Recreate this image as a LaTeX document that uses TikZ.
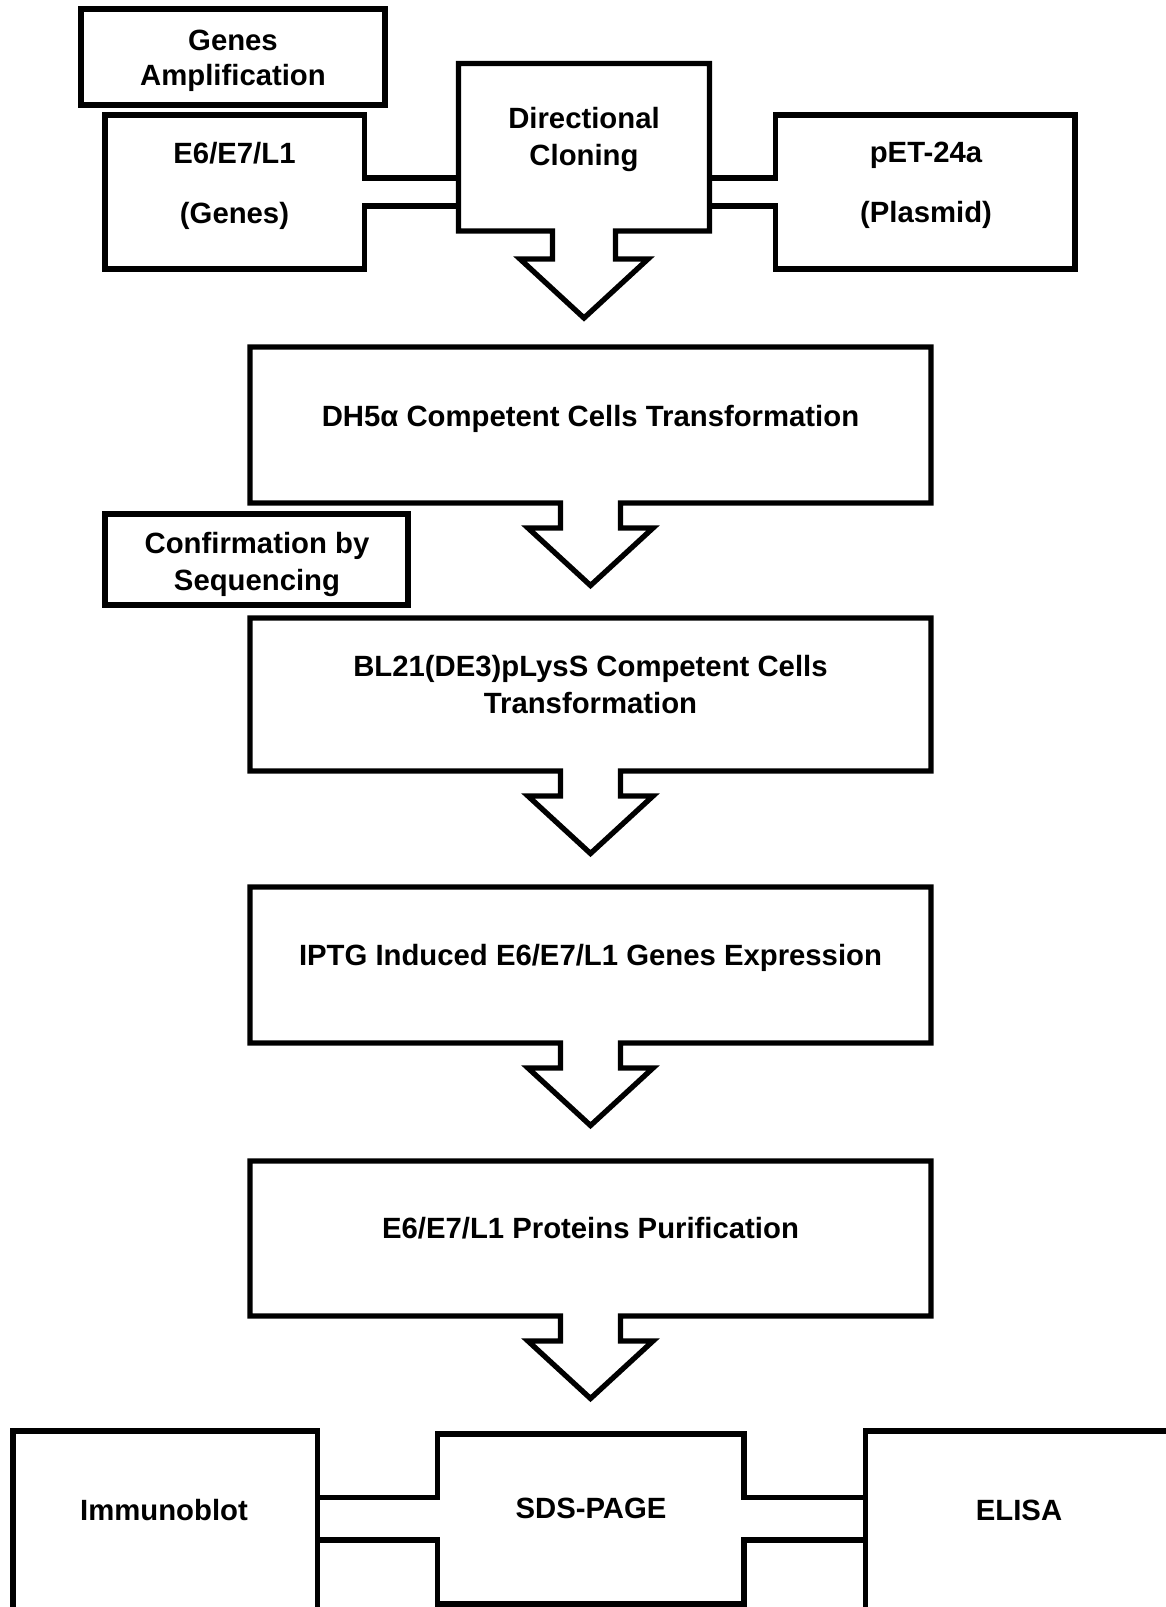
\documentclass[tikz,border=0pt]{standalone}
\usepackage{fontspec}
\setmainfont{Liberation Sans}
\usetikzlibrary{calc}
\newcommand{\boxwitharrow}[1]{%
  \draw[outline] (#1.south west) -- (#1.north west) -- (#1.north east) -- (#1.south east)
    -- ($(#1.south)+(30,0)$) -- ++(0,25) -- ++(32.5,0) -- ($(#1.south)+(0,82.5)$) coordinate (#1tip)
    -- ($(#1.south)+(-62.5,25)$) -- ++(32.5,0) -- ($(#1.south)+(-30,0)$) -- cycle;}
\begin{document}
\begin{tikzpicture}[x=1pt,y=-1pt,
  outline/.style={draw=black,line width=5.3pt,line join=miter},
  boxarea/.style={shape=rectangle,inner sep=0pt,outer sep=0pt,draw=none},
  lbl/.style={anchor=base,align=center,inner sep=0pt,font=\fontsize{29.3}{37}\selectfont\bfseries}]
\useasboundingbox (0,0) rectangle (1166,1607);
\clip (0,0) rectangle (1166,1607);

% box areas (stroke centre lines)
\node[boxarea,minimum width=304pt,minimum height=96pt] (ga) at (233,57) {};
\node[boxarea,minimum width=259.5pt,minimum height=154pt] (e6) at (234.75,192) {};
\node[boxarea,minimum width=251pt,minimum height=167.5pt] (dc) at (584,147.25) {};
\node[boxarea,minimum width=299.5pt,minimum height=154pt] (pet) at (925.25,192) {};
\node[boxarea,minimum width=681pt,minimum height=156pt] (dh) at (590.5,425) {};
\node[boxarea,minimum width=303pt,minimum height=91pt] (cs) at (256.5,559.5) {};
\node[boxarea,minimum width=681pt,minimum height=153pt] (bl) at (590.5,694.5) {};
\node[boxarea,minimum width=681pt,minimum height=156pt] (ip) at (590.5,965) {};
\node[boxarea,minimum width=681pt,minimum height=155pt] (pu) at (590.5,1238.5) {};
\node[boxarea,minimum width=304.5pt,minimum height=269pt] (im) at (165.25,1565.5) {};
\node[boxarea,minimum width=306.5pt,minimum height=170pt] (sd) at (590.75,1519) {};
\node[boxarea,minimum width=334.5pt,minimum height=269pt] (el) at (1032.75,1565.5) {};

% connector levels
\coordinate (ya) at (0,178);
\coordinate (yb) at (0,206);
\coordinate (yc) at (0,1497.5);
\coordinate (yd) at (0,1540);

% outlines
\draw[outline] (ga.north west) rectangle (ga.south east);
\draw[outline] (cs.north west) rectangle (cs.south east);

\draw[outline] (dc.west |- ya) -- (e6.east |- ya) -- (e6.north east) -- (e6.north west)
  -- (e6.south west) -- (e6.south east) -- (e6.east |- yb) -- (dc.west |- yb);

\draw[outline] (dc.south west) -- (dc.north west) -- (dc.north east) -- (dc.south east)
  -- ($(dc.south)+(31.5,0)$) -- ++(0,28) -- ++(32.5,0) -- ($(dc.south)+(0,87)$) coordinate (dctip)
  -- ($(dc.south)+(-64,28)$) -- ++(32.5,0) -- ($(dc.south)+(-31.5,0)$) -- cycle;

\draw[outline] (dc.east |- ya) -- (pet.west |- ya) -- (pet.north west) -- (pet.north east)
  -- (pet.south east) -- (pet.south west) -- (pet.west |- yb) -- (dc.east |- yb);

\boxwitharrow{dh}
\boxwitharrow{bl}
\boxwitharrow{ip}
\boxwitharrow{pu}

\draw[outline] (im.north west) rectangle (im.south east);
\draw[outline] (el.north west) rectangle (el.south east);
\draw[outline] (im.east |- yc) -- (sd.west |- yc) -- (sd.north west) -- (sd.north east)
  -- (sd.east |- yc) -- (el.west |- yc);
\draw[outline] (im.east |- yd) -- (sd.west |- yd) -- (sd.south west) -- (sd.south east)
  -- (sd.east |- yd) -- (el.west |- yd);

% labels (base anchor = baseline of the last line)
\node[lbl] (gaT) at (233,85.5) {Genes\\[-2pt]Amplification};
\node[lbl] (e6T) at (234.5,223.5) {E6/E7/L1\\[23pt](Genes)};
\node[lbl] (dcT) at (584,165.5) {Directional\\Cloning};
\node[lbl] (petT) at (926,222.5) {pET-24a\\[23pt](Plasmid)};
\node[lbl] (dhT) at (590.5,426) {DH5α Competent Cells Transformation};
\node[lbl] (csT) at (257,590.5) {Confirmation by\\Sequencing};
\node[lbl] (blT) at (590.5,713.5) {BL21(DE3)pLysS Competent Cells\\Transformation};
\node[lbl] (ipT) at (590.5,965.5) {IPTG Induced E6/E7/L1 Genes Expression};
\node[lbl] (puT) at (590.5,1238) {E6/E7/L1 Proteins Purification};
\node[lbl] (imT) at (164,1520.5) {Immunoblot};
\node[lbl] (sdT) at (591,1518.5) {SDS-PAGE};
\node[lbl] (elT) at (1019,1520.5) {ELISA};
\end{tikzpicture}
\end{document}
